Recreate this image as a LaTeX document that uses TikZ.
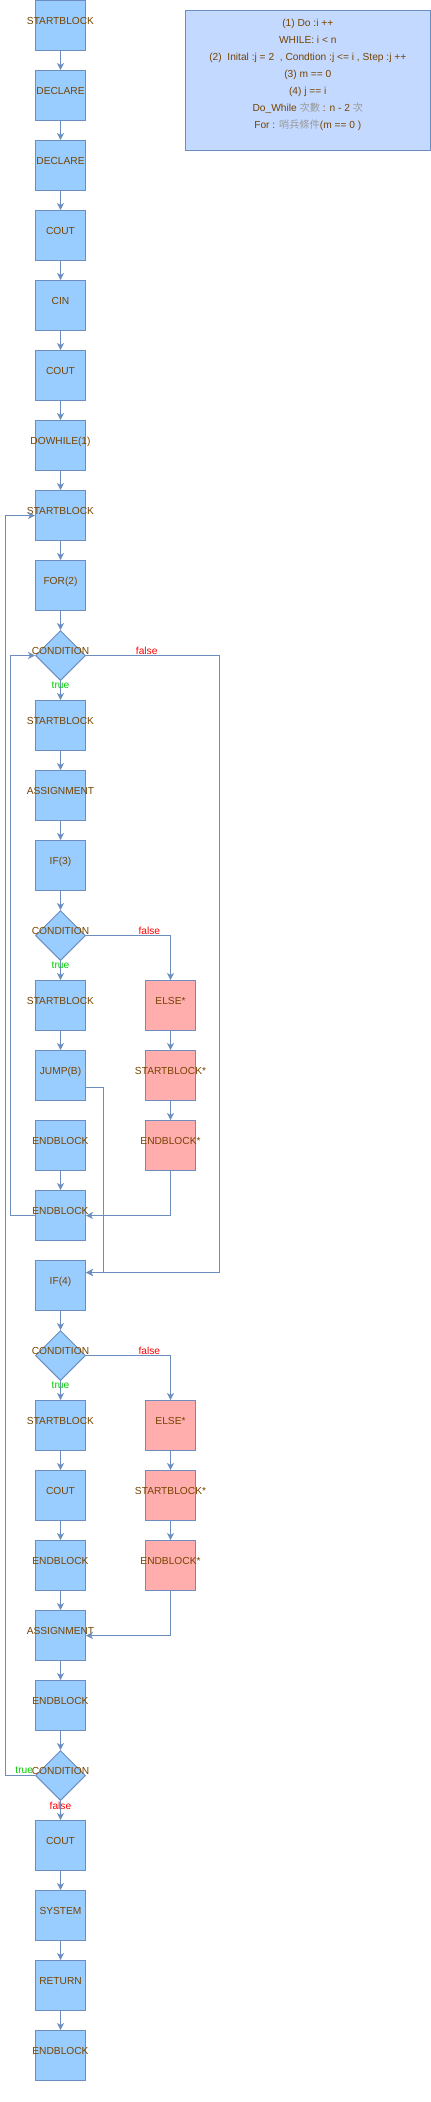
\documentclass[tikz,border=0pt]{standalone}
\usepackage{fontspec}
\setmainfont{Liberation Sans}
\newfontfamily\cjk{Noto Sans CJK TC}
\usetikzlibrary{shapes.geometric,arrows.meta}
\definecolor{blockfill}{HTML}{99CCFF}
\definecolor{elsefill}{HTML}{FFADAD}
\definecolor{notefill}{HTML}{C3D9FF}
\definecolor{edge}{HTML}{6C8EBF}
\definecolor{word}{HTML}{774400}
\definecolor{truecol}{HTML}{00CC00}
\definecolor{falsecol}{HTML}{FF0000}
\definecolor{hanzi}{HTML}{999999}
\newcommand{\zh}[1]{{\cjk\color{hanzi}#1}}
\tikzset{
    block/.style = {
        draw=edge,
        line width=1pt,
        fill=blockfill,
        minimum size=50pt,
        inner sep=0pt,
        text=word,
        font=\fontsize{10.2}{12}\selectfont,
        text height=7.3pt,
        text depth=10pt,
        execute at begin node={\hbox to 0pt\bgroup\hss},
        execute at end node={\hss\egroup}
    },
    elseblock/.style = {
        block,
        fill=elsefill
    },
    cond/.style = {
        diamond,
        draw=edge,
        line width=1pt,
        fill=blockfill,
        minimum width=50pt,
        minimum height=50pt,
        inner sep=0pt
    },
    condtext/.style = {
        text=word,
        font=\fontsize{10.2}{12}\selectfont,
        inner sep=0pt,
        yshift=5pt
    },
    flow/.style = {
        draw=edge,
        line width=1pt,
        -{Stealth[length=7pt,width=7pt,inset=2pt]}
    },
    yes/.style = {
        text=truecol,
        font=\fontsize{10.2}{12}\selectfont,
        inner sep=0pt
    },
    no/.style = {
        text=falsecol,
        font=\fontsize{10.2}{12}\selectfont,
        inner sep=0pt
    },
    note/.style = {
        draw=edge,
        line width=1pt,
        fill=notefill,
        minimum width=245pt,
        minimum height=140pt
    },
    notetext/.style = {
        text=word,
        align=center,
        font=\fontsize{10.2}{17}\selectfont,
        inner sep=0pt,
        yshift=5pt
    }
}

\begin{document}
\begin{tikzpicture}[x=1pt,y=-1pt]

	\useasboundingbox (0,0) rectangle (431,2102);

	% Nota
	\node[note, label={[notetext]center:{(1) Do :i ++\\
		WHILE: i < n\\
		(2)\ \ Inital :j = 2\ \ , Condtion :j <= i , Step :j ++\\
		(3) m == 0\\
		(4) j == i\\
		Do\_While \zh{次數} : n - 2 \zh{次}\\
		For : \zh{哨兵條件}(m == 0 )}}] (note) at (307.8,80.2) {};

	% Columna principal
	\node[block] (sb1) at (60.5,25.5) {STARTBLOCK};
	\node[block] (dec1) at (60.5,95.5) {DECLARE};
	\node[block] (dec2) at (60.5,165.5) {DECLARE};
	\node[block] (cout1) at (60.5,235.5) {COUT};
	\node[block] (cin) at (60.5,305.5) {CIN};
	\node[block] (cout2) at (60.5,375.5) {COUT};
	\node[block] (dowhile) at (60.5,445.5) {DOWHILE(1)};
	\node[block] (sb2) at (60.5,515.5) {STARTBLOCK};
	\node[block] (forloop) at (60.5,585.5) {FOR(2)};
	\node[cond, label={[condtext]center:CONDITION}] (cond1) at (60.5,655.5) {};
	\node[block] (sb3) at (60.5,725.5) {STARTBLOCK};
	\node[block] (asg1) at (60.5,795.5) {ASSIGNMENT};
	\node[block] (if3) at (60.5,865.5) {IF(3)};
	\node[cond, label={[condtext]center:CONDITION}] (cond2) at (60.5,935.5) {};
	\node[block] (sb4) at (60.5,1005.5) {STARTBLOCK};
	\node[block] (jump) at (60.5,1075.5) {JUMP(B)};
	\node[block] (eb1) at (60.5,1145.5) {ENDBLOCK};
	\node[block] (eb2) at (60.5,1215.5) {ENDBLOCK};
	\node[block] (if4) at (60.5,1285.5) {IF(4)};
	\node[cond, label={[condtext]center:CONDITION}] (cond3) at (60.5,1355.5) {};
	\node[block] (sb5) at (60.5,1425.5) {STARTBLOCK};
	\node[block] (cout3) at (60.5,1495.5) {COUT};
	\node[block] (eb3) at (60.5,1565.5) {ENDBLOCK};
	\node[block] (asg2) at (60.5,1635.5) {ASSIGNMENT};
	\node[block] (eb4) at (60.5,1705.5) {ENDBLOCK};
	\node[cond, label={[condtext]center:CONDITION}] (cond4) at (60.5,1775.5) {};
	\node[block] (cout4) at (60.5,1845.5) {COUT};
	\node[block] (sys) at (60.5,1915.5) {SYSTEM};
	\node[block] (ret) at (60.5,1985.5) {RETURN};
	\node[block] (eb5) at (60.5,2055.5) {ENDBLOCK};

	% Ramas else
	\node[elseblock] (else1) at (170.5,1005.5) {ELSE*};
	\node[elseblock] (sbs1) at (170.5,1075.5) {STARTBLOCK*};
	\node[elseblock] (ebs1) at (170.5,1145.5) {ENDBLOCK*};
	\node[elseblock] (else2) at (170.5,1425.5) {ELSE*};
	\node[elseblock] (sbs2) at (170.5,1495.5) {STARTBLOCK*};
	\node[elseblock] (ebs2) at (170.5,1565.5) {ENDBLOCK*};

	% Flujo recto
	\draw[flow] (sb1) -- (dec1);
	\draw[flow] (dec1) -- (dec2);
	\draw[flow] (dec2) -- (cout1);
	\draw[flow] (cout1) -- (cin);
	\draw[flow] (cin) -- (cout2);
	\draw[flow] (cout2) -- (dowhile);
	\draw[flow] (dowhile) -- (sb2);
	\draw[flow] (sb2) -- (forloop);
	\draw[flow] (forloop) -- (cond1);
	\draw[flow] (cond1) -- node[yes, pos=0.23] (t1) {true} (sb3);
	\draw[flow] (sb3) -- (asg1);
	\draw[flow] (asg1) -- (if3);
	\draw[flow] (if3) -- (cond2);
	\draw[flow] (cond2) -- node[yes, pos=0.23] (t2) {true} (sb4);
	\draw[flow] (sb4) -- (jump);
	\draw[flow] (eb1) -- (eb2);
	\draw[flow] (if4) -- (cond3);
	\draw[flow] (cond3) -- node[yes, pos=0.23] (t3) {true} (sb5);
	\draw[flow] (sb5) -- (cout3);
	\draw[flow] (cout3) -- (eb3);
	\draw[flow] (eb3) -- (asg2);
	\draw[flow] (asg2) -- (eb4);
	\draw[flow] (eb4) -- (cond4);
	\draw[flow] (cond4) -- node[no, pos=0.23] (f4) {false} (cout4);
	\draw[flow] (cout4) -- (sys);
	\draw[flow] (sys) -- (ret);
	\draw[flow] (ret) -- (eb5);

	% Ramas else
	\draw[flow] (cond2.east) -| node[no, pos=0.375, yshift=5pt] (f2) {false} (else1);
	\draw[flow] (else1) -- (sbs1);
	\draw[flow] (sbs1) -- (ebs1);
	\draw[flow] (ebs1) |- (eb2.east);
	\draw[flow] (cond3.east) -| node[no, pos=0.375, yshift=5pt] (f3) {false} (else2);
	\draw[flow] (else2) -- (sbs2);
	\draw[flow] (sbs2) -- (ebs2);
	\draw[flow] (ebs2) |- (asg2.east);

	% Saltos y lazos
	\draw[flow] (cond1.east) -- node[no, pos=0.455, yshift=5pt] (f1) {false} ++(133.5,0) |- ([yshift=13pt]if4.east);
	\draw[flow] ([yshift=-12pt]jump.east) -- ++(17.5,0) |- ([yshift=13pt]if4.east);
	\draw[flow] (eb2.west) -- ++(-24.5,0) |- (cond1.west);
	\draw[flow] (cond4.west) node[yes, left=1.5pt, yshift=5pt] (t4) {true} -- ++(-30,0) |- (sb2.west);

\end{tikzpicture}
\end{document}
